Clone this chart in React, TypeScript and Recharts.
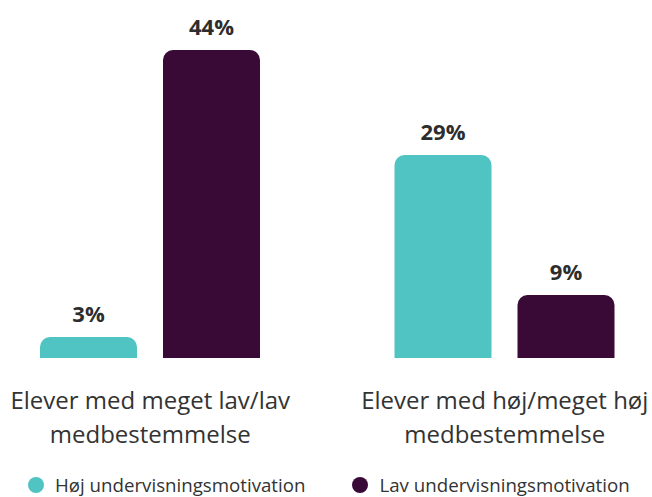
import { BarChart, Bar, XAxis, YAxis, LabelList } from 'recharts';

const categories = ['Elever med meget lav/lav\nmedbestemmelse', 'Elever med høj/meget høj\nmedbestemmelse'];
const highMotivation = [3, 29];
const lowMotivation = [44, 9];
const seriesNames = ['Høj undervisningsmotivation', 'Lav undervisningsmotivation'];
const colors = ['#50c3c3', '#380a35'];

const data = categories.map((name, i) => ({
  name,
  high: highMotivation[i],
  low: lowMotivation[i],
}));

const FONT = '"Open Sans", sans-serif';

const CategoryTick = (props: any) => {
  const { x, y, payload } = props;
  const lines = String(payload.value).split('\n');
  return (
    <text x={x} y={y} textAnchor="middle" fontSize={24} fontFamily={FONT} fill="#333333">
      {lines.map((l, i) => (
        <tspan key={i} x={x} dy={i === 0 ? 17 : 34}>
          {l}
        </tspan>
      ))}
    </text>
  );
};

export default function App() {
  return (
    <div style={{ position: 'absolute', left: 0, top: 0, width: 652, height: 497, overflow: 'hidden', background: '#fff' }}>
      <BarChart
        width={652}
        height={497}
        data={data}
        margin={{ top: 50, right: -30, left: -27, bottom: 0 }}
        barSize={97}
        barGap={26}
      >
        <XAxis
          dataKey="name"
          axisLine={false}
          tickLine={false}
          tick={<CategoryTick />}
          tickMargin={28}
          height={139}
          interval={0}
        />
        <YAxis hide domain={[0, 44]} />
        <Bar dataKey="high" name={seriesNames[0]} fill={colors[0]} radius={[10, 10, 0, 0]} isAnimationActive={false}>
          <LabelList dataKey="high" position="top" offset={15} formatter={(v: any) => `${v}%`} fill="#2d2d2d" fontSize={22} fontWeight={700} fontFamily={FONT} />
        </Bar>
        <Bar dataKey="low" name={seriesNames[1]} fill={colors[1]} radius={[10, 10, 0, 0]} isAnimationActive={false}>
          <LabelList dataKey="low" position="top" offset={15} formatter={(v: any) => `${v}%`} fill="#2d2d2d" fontSize={22} fontWeight={700} fontFamily={FONT} />
        </Bar>
      </BarChart>
      <div
        style={{
          position: 'absolute',
          left: 28,
          top: 474,
          display: 'flex',
          gap: 47,
          fontFamily: FONT,
          fontSize: 18.7,
          lineHeight: '22px',
          color: '#333333',
        }}
      >
        {seriesNames.map((n, i) => (
          <div key={n} style={{ display: 'flex', alignItems: 'center', gap: 11 }}>
            <span style={{ width: 16, height: 16, borderRadius: '50%', background: colors[i], display: 'inline-block', flexShrink: 0 }} />
            <span>{n}</span>
          </div>
        ))}
      </div>
    </div>
  );
}
